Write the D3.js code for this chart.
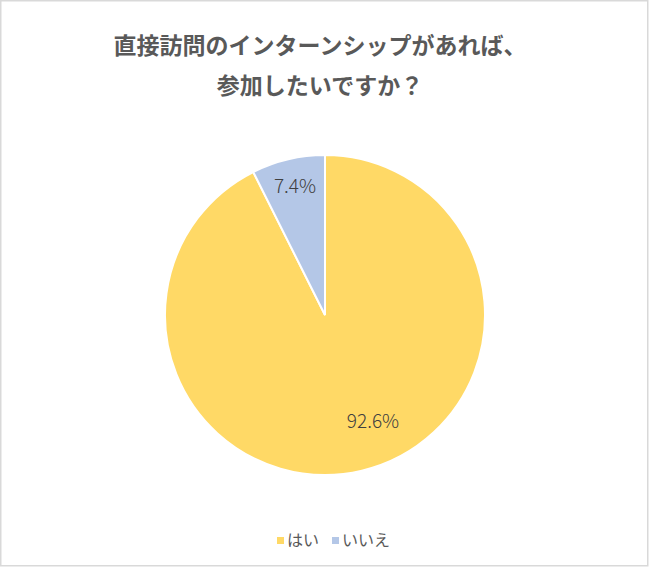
<!DOCTYPE html>
<html>
<head>
<meta charset="utf-8">
<script src="https://cdn.jsdelivr.net/npm/d3@7"></script>
<style>
body { margin: 0; background: #fff; }
text { font-family: "Noto Sans CJK JP", "Noto Sans", sans-serif; }
</style>
</head>
<body>
<div id="chart"></div>
<script>
var chart_width  = 650;
var chart_height = 568;

var titleLines = ['直接訪問のインターンシップがあれば、', '参加したいですか？'];
var categories = ['はい', 'いいえ'];
var values     = [92.6, 7.4];
var colors     = ['#FFD966', '#B4C7E7'];

var data = categories.map((c, i) => ({name: c, value: values[i]}));

var svg = d3.select('#chart')
    .append('svg')
    .attr('width', chart_width)
    .attr('height', chart_height);

// frame
svg.append('rect')
    .attr('x', 0.75).attr('y', 0.75)
    .attr('width', chart_width - 3).attr('height', chart_height - 3)
    .attr('fill', '#fff')
    .attr('stroke', '#d9d9d9')
    .attr('stroke-width', 1.5);

// title
svg.append('g').selectAll('text')
    .data(titleLines)
    .enter()
    .append('text')
    .attr('x', 320)
    .attr('y', (d, i) => 54 + i * 40)
    .attr('text-anchor', 'middle')
    .attr('font-size', 23)
    .attr('font-weight', 'bold')
    .attr('fill', '#595959')
    .text(d => d);

var cx = 325, cy = 315, radius = 160;

var pie = d3.pie().sort(null).value(d => d.value);
var arc = d3.arc().innerRadius(0).outerRadius(radius);

var g = svg.append('g').attr('transform', `translate(${cx}, ${cy})`);
var arcs = pie(data);

g.selectAll('path')
    .data(arcs)
    .enter()
    .append('path')
    .attr('d', arc)
    .attr('fill', (d, i) => colors[i])
    .attr('stroke', '#fff')
    .attr('stroke-width', 2);

// labels (manual offsets like Excel's best-fit placement)
var labelPos = [[48, 106], [-30, -129]];
g.selectAll('.lbl')
    .data(arcs)
    .enter()
    .append('text')
    .attr('class', 'lbl')
    .attr('transform', (d, i) => `translate(${labelPos[i][0]}, ${labelPos[i][1]})`)
    .attr('text-anchor', 'middle')
    .attr('dy', '0.35em')
    .attr('font-size', 19)
    .attr('font-weight', 300)
    .attr('fill', '#404040')
    .text(d => d.data.value.toFixed(1) + '%');

// legend
var legend = svg.append('g');
var lx = [277, 332];
var item = legend.selectAll('g')
    .data(data)
    .enter()
    .append('g')
    .attr('transform', (d, i) => `translate(${lx[i]}, 540)`);

item.append('rect')
    .attr('x', 0).attr('y', -3)
    .attr('width', 7).attr('height', 7)
    .attr('fill', (d, i) => colors[i]);

item.append('text')
    .attr('x', 10)
    .attr('y', 0)
    .attr('dy', '0.35em')
    .attr('font-size', 16)
    .attr('fill', '#595959')
    .text(d => d.name);
</script>
</body>
</html>
